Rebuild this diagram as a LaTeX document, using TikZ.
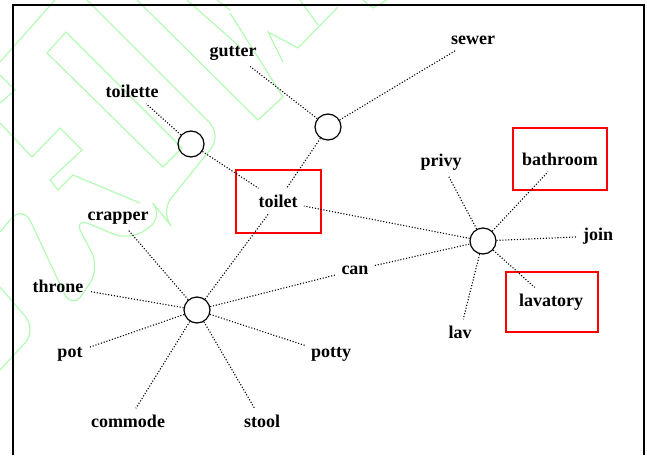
\documentclass[tikz,border=0pt]{standalone}
\usepackage{fontspec}
\setmainfont{Liberation Serif}
\begin{document}
\begin{tikzpicture}[x=0.5pt,y=-0.5pt,
  every node/.style={font=\fontsize{9}{11}\selectfont\bfseries},
  hub/.style={circle,draw,line width=0.6pt,minimum size=13pt,inner sep=0pt},
  word/.style={inner sep=3pt},
  redbox/.style={draw=red,line width=0.8pt,inner sep=0pt},
  link/.style={line width=0.55pt,dash pattern=on 0.55pt off 0.9pt},
  wm/.style={draw={rgb,255:red,180;green,250;blue,180},line width=0.6pt}]
\useasboundingbox (0,0) rectangle (647,455);

% faint outline marks in the upper left
\draw[wm] (0,62) -- (55,0);
\draw[wm] (0,75) -- (15,90) -- (0,103);
\draw[wm] (66,32) -- (47,53) -- (163,167) -- (182,148) -- cycle;
\draw[wm,rounded corners=9pt] (87,0) -- (222,135) -- (160,212) -- (164,217) -- (130,241) -- (73,217) -- (100,268) -- (72,310) -- (23,205) -- (0,232);
\draw[wm] (0,123) -- (32,157) -- (60,128) -- (82,150) -- (50,180) -- (58,190) -- (73,175) -- (140,203);
\draw[wm,rounded corners=9pt] (0,287) -- (37,330) -- (0,370);
\draw[wm] (137,0) -- (258,120) -- (283,97) -- (230,13);
\draw[wm] (187,0) -- (240,47);
\draw[wm] (283,62) -- (268,32) -- (298,48) -- (338,7);
\draw[wm] (318,25) -- (300,0);
\draw[wm] (217,0) -- (230,10);
\draw[wm] (363,0) -- (373,8) -- (387,0);

% frame
\draw[line width=1pt] (13,455) -- (13,5) -- (644,5) -- (644,455);

% hubs
\node[hub] (c1) at (191,144) {};
\node[hub] (c2) at (328,127) {};
\node[hub] (c3) at (197,310) {};
\node[hub] (c4) at (483,241) {};

% words
\node[word] (toilette) at (132,91) {toilette};
\node[word] (gutter) at (233,53) {gutter};
\node[word] (sewer) at (473,40) {sewer};
\node[word] (toilet) at (278,201) {toilet};
\node[word] (crapper) at (118,218) {crapper};
\node[word] (throne) at (58,286) {throne};
\node[word] (pot) at (70,354) {pot};
\node[word] (commode) at (128,421) {commode};
\node[word] (stool) at (262,421) {stool};
\node[word] (potty) at (331,354) {potty};
\node[word] (can) at (355,270) {can};
\node[word] (privy) at (441,162) {privy};
\node[word] (bathroom) at (560,159) {bathroom};
\node[word] (join) at (598,236) {join};
\node[word] (lavatory) at (551,302) {lavatory};
\node[word] (lav) at (460,332) {lav};

% red frames round three words
\node[redbox,minimum width=42.5pt,minimum height=31.5pt] (toiletbox) at (278.5,201.5) {};
\node[redbox,minimum width=47pt,minimum height=31pt] (bathroombox) at (560,159) {};
\node[redbox,minimum width=46pt,minimum height=30pt] (lavatorybox) at (552,302) {};

% connectors
\draw[link] (c1) -- (toilette);
\draw[link] (c1) -- (toilet);
\draw[link] (c2) -- (gutter);
\draw[link] (c2) -- (sewer);
\draw[link] (c2) -- (toilet);
\draw[link] (c3) -- (toilet);
\draw[link] (c3) -- (crapper);
\draw[link] (c3) -- (throne);
\draw[link] (c3) -- (pot);
\draw[link] (c3) -- (commode);
\draw[link] (c3) -- (stool);
\draw[link] (c3) -- (potty);
\draw[link] (c3) -- (can);
\draw[link] (can) -- (c4);
\draw[link] (c4) -- (toilet);
\draw[link] (c4) -- (privy);
\draw[link] (c4) -- (bathroom);
\draw[link] (c4) -- (join);
\draw[link] (c4) -- (lavatory);
\draw[link] (c4) -- (lav);
\end{tikzpicture}
\end{document}
